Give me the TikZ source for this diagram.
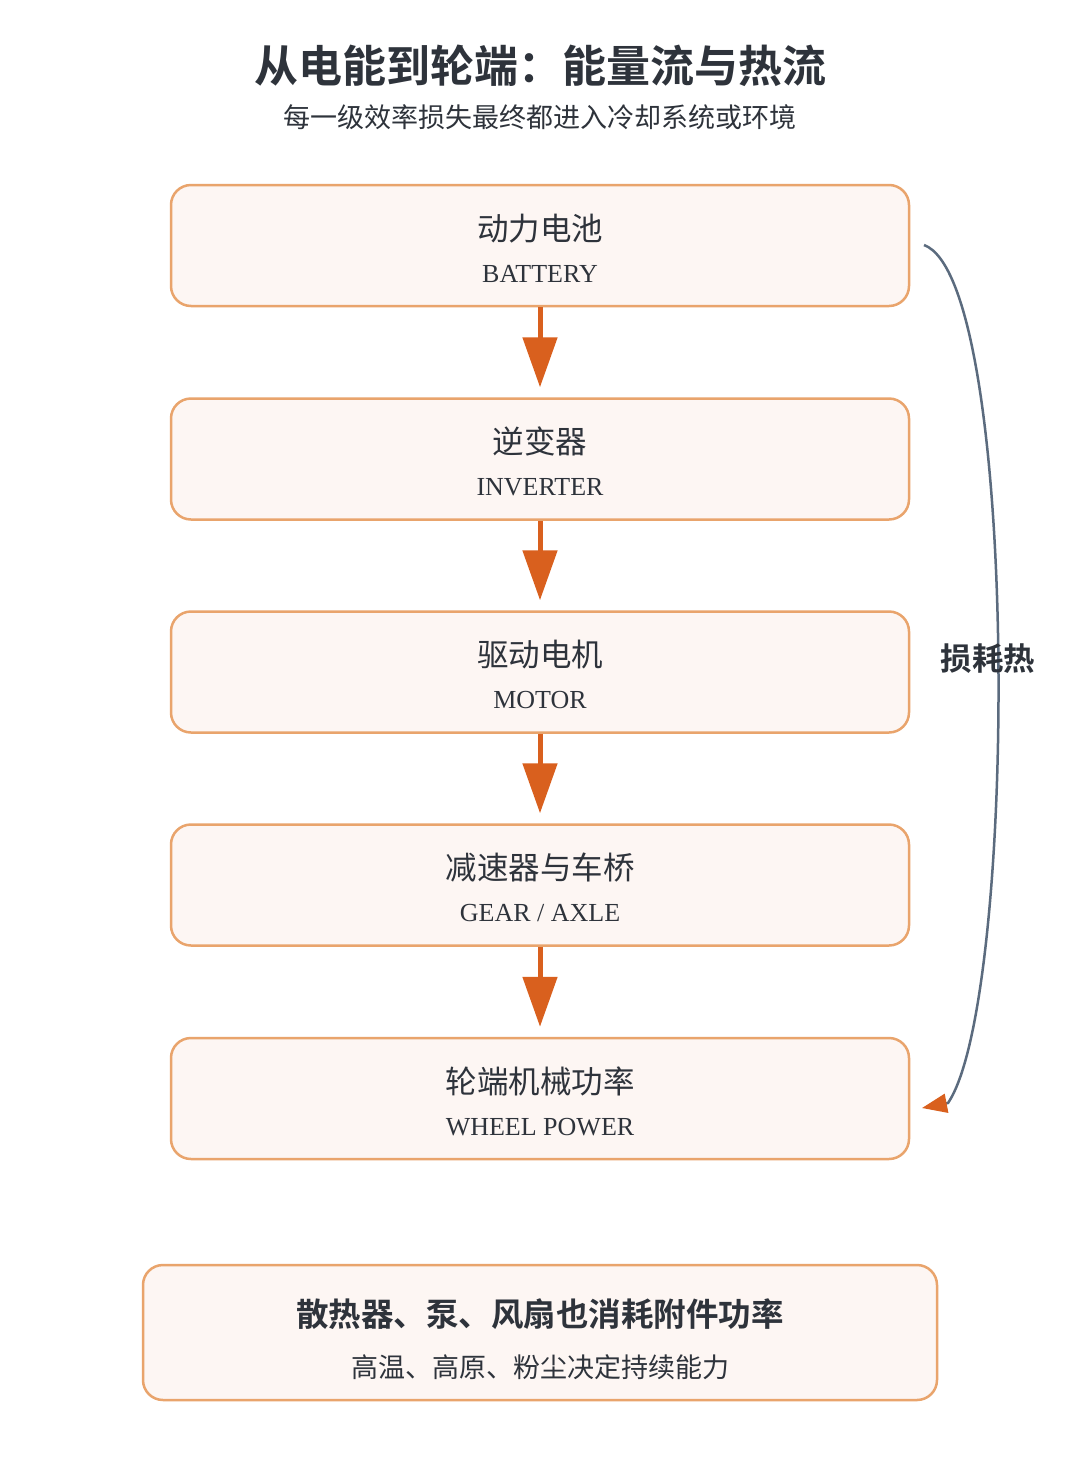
\documentclass[tikz,border=0pt]{standalone}
\usepackage{fontspec}
\setmainfont{Liberation Serif}
\newfontfamily\cjk{Noto Sans CJK SC}
\newfontfamily\cjkb{Noto Sans CJK SC Bold}
\usetikzlibrary{arrows.meta}
\definecolor{boxline}{HTML}{E9A46C}
\definecolor{boxfill}{HTML}{FDF6F3}
\definecolor{flowor}{HTML}{D9601E}
\definecolor{heatline}{HTML}{5B6B7E}
\definecolor{txt}{HTML}{2E333B}
\tikzset{
  stagebox/.style={draw=boxline, fill=boxfill, line width=2.5pt, rounded corners=20pt,
    minimum width=738pt, minimum height=121pt, inner sep=0pt},
  notebox/.style={draw=boxline, fill=boxfill, line width=2.5pt, rounded corners=20pt,
    minimum width=794pt, minimum height=135pt, inner sep=0pt},
  cntext/.style={anchor=base, inner sep=0pt, text=txt, font=\cjk\fontsize{31.5}{31.5}\selectfont},
  entext/.style={anchor=base, inner sep=0pt, text=txt, font=\fontsize{26}{26}\selectfont},
  flow/.style={draw=flowor, line width=5pt, shorten >=10pt,
    -{Triangle[length=50pt,width=34pt,color=flowor]}},
  heat/.style={draw=heatline, line width=2.5pt,
    -{Triangle[length=25pt,width=19pt,color=flowor]}},
}
\begin{document}
\begin{tikzpicture}[x=1pt,y=-1pt]
\useasboundingbox[fill=white] (0,0) rectangle (1080,1478);
% title
\node[anchor=base, inner sep=0pt, text=txt, font=\cjkb\fontsize{44}{44}\selectfont] (title) at (540,82) {从电能到轮端：能量流与热流};
\node[anchor=base, inner sep=0pt, text=txt, font=\cjk\fontsize{27}{27}\selectfont] (subtitle) at (540,127) {每一级效率损失最终都进入冷却系统或环境};
% boxes
\node[stagebox] (bat) at (540,245.5) {};
\node[stagebox] (inv) at (540,459) {};
\node[stagebox] (mot) at (540,672) {};
\node[stagebox] (gear) at (540,885) {};
\node[stagebox] (wheel) at (540,1098.5) {};
\node[cntext] (batcn) at (540,240) {动力电池};
\node[entext] (baten) at (540,282) {BATTERY};
\node[cntext] (invcn) at (540,453.5) {逆变器};
\node[entext] (inven) at (540,495.5) {INVERTER};
\node[cntext] (motcn) at (540,666.5) {驱动电机};
\node[entext] (moten) at (540,708.5) {MOTOR};
\node[cntext] (gearcn) at (540,879.5) {减速器与车桥};
\node[entext] (gearen) at (540,921.5) {GEAR / AXLE};
\node[cntext] (wheelcn) at (540,1093) {轮端机械功率};
\node[entext] (wheelen) at (540,1135) {WHEEL POWER};
% flow arrows
\draw[flow] (bat) -- (inv);
\draw[flow] (inv) -- (mot);
\draw[flow] (mot) -- (gear);
\draw[flow] (gear) -- (wheel);
% heat loss connector
\coordinate (hs) at (924,245);
\coordinate (hb) at (948,1103);
\coordinate (he) at (922,1108);
\draw[heat] (hs) .. controls (1020,280) and (1018,1000) .. (hb) -- (he);
\node[anchor=base, inner sep=0pt, text=txt, font=\cjkb\fontsize{31.5}{31.5}\selectfont] (heatlbl) at (988,670) {损耗热};
% bottom note
\node[notebox] (note) at (540,1332.5) {};
\node[anchor=base, inner sep=0pt, text=txt, font=\cjkb\fontsize{32.5}{32.5}\selectfont] (note1) at (540,1326) {散热器、泵、风扇也消耗附件功率};
\node[anchor=base, inner sep=0pt, text=txt, font=\cjk\fontsize{27}{27}\selectfont] (note2) at (540,1377) {高温、高原、粉尘决定持续能力};
\end{tikzpicture}
\end{document}
